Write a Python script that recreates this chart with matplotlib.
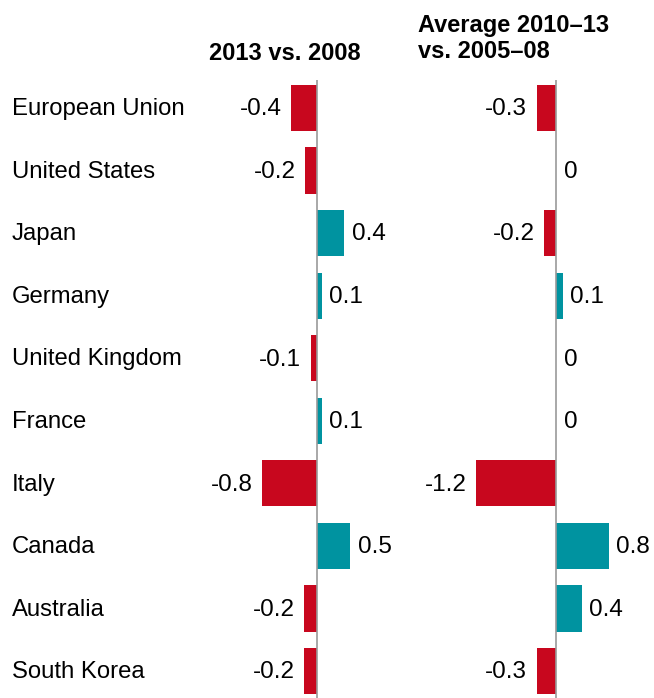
import numpy as np
import matplotlib
matplotlib.use('Agg')
import matplotlib.pyplot as plt
from matplotlib.transforms import blended_transform_factory

plt.rcParams['font.family'] = ['Liberation Sans', 'DejaVu Sans']

countries = ['European Union', 'United States', 'Japan', 'Germany', 'United Kingdom',
             'France', 'Italy', 'Canada', 'Australia', 'South Korea']
chg_2013 = [-0.39, -0.18, 0.41, 0.07, -0.09, 0.07, -0.83, 0.50, -0.19, -0.19]
chg_avg = [-0.29, 0.0, -0.18, 0.10, 0.0, 0.0, -1.21, 0.80, 0.39, -0.29]
titles = ['2013 vs. 2008', 'Average 2010\u201313\nvs. 2005\u201308']

RED = '#C8071E'
TEAL = '#0093A0'
W, H = 654, 698
FS = 17.2
FS_VAL = 17.5
FS_TTL = 17

fig = plt.figure(figsize=(W / 100, H / 100), dpi=100)

# axes placed in pixel coordinates so zero lines land at x=317 and x=556
px = 66.0  # pixels per unit
panels = [(200, 420, 317), (440, 654, 556)]
top, bot = 80, 698
row0, step = 108, 62.55
ylim = ((bot - row0) / step, (top - row0) / step)

def label(v):
    return '0' if round(v, 1) == 0 else f'{v:.1f}'

axes = []
for (x0, x1, z), vals in zip(panels, [chg_2013, chg_avg]):
    ax = fig.add_axes([x0 / W, 1 - bot / H, (x1 - x0) / W, (bot - top) / H])
    ax.set_xlim(-(z - x0) / px, (x1 - z) / px)
    ax.set_ylim(*ylim)
    y = np.arange(len(vals))
    cols = [RED if v < 0 else TEAL for v in vals]
    ax.barh(y, vals, height=0.74, color=cols)
    ax.axvline(0, color='#999999', lw=1.2)
    for yi, v in zip(y, vals):
        if v < 0:
            ax.annotate(label(v), (v, yi), xytext=(-7, -1), textcoords='offset points',
                        ha='right', va='center', fontsize=FS_VAL)
        else:
            ax.annotate(label(v), (v, yi), xytext=(5.5, -1), textcoords='offset points',
                        ha='left', va='center', fontsize=FS_VAL)
    ax.axis('off')
    axes.append(ax)

tr = blended_transform_factory(fig.transFigure, axes[0].transData)
for i, c in enumerate(countries):
    axes[0].text(12 / W, i + 0.02, c, transform=tr, ha='left', va='center', fontsize=FS)

fig.text(285 / W, 1 - 53 / H, titles[0], ha='center', va='center',
         fontsize=FS_TTL, fontweight='bold')
fig.text(418 / W, 1 - 14 / H, titles[1], ha='left', va='top',
         fontsize=FS_TTL, fontweight='bold', linespacing=1.15)

fig.savefig('out.png', dpi=100)
